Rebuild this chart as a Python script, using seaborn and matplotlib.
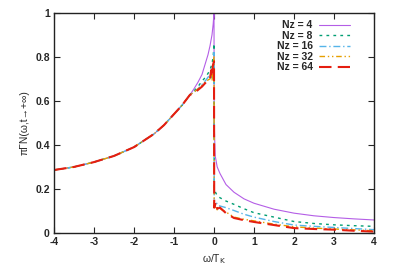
import numpy as np
import pandas as pd
import matplotlib
matplotlib.use("Agg")
import matplotlib.pyplot as plt
import seaborn as sns

# shared left branch (all Nz nearly identical far from omega = 0)
omega_left = [-4, -3.5, -3, -2.5, -2, -1.5, -1.25, -1, -0.8, -0.6]
dos_left = [0.286, 0.300, 0.322, 0.350, 0.390, 0.450, 0.490, 0.540, 0.580, 0.628]

# near-peak and right branch per Nz
omega_4 = [-0.5, -0.4, -0.3, -0.2, -0.15, -0.1, -0.05, -0.02, 0, 0.005, 0.03, 0.08, 0.15, 0.3, 0.5, 0.75, 1, 1.5, 2, 2.5, 3, 3.5, 4]
dos_4 = [0.655, 0.685, 0.72, 0.78, 0.81, 0.85, 0.90, 0.95, 1.0, 0.50, 0.35, 0.30, 0.27, 0.22, 0.185, 0.155, 0.135, 0.108, 0.09, 0.078, 0.07, 0.064, 0.059]

omega_8 = [-0.5, -0.4, -0.3, -0.2, -0.1, -0.05, -0.02, 0, 0.005, 0.05, 0.1, 0.2, 0.3, 0.5, 0.75, 1, 1.5, 2, 2.5, 3, 3.5, 4]
dos_8 = [0.645, 0.665, 0.69, 0.71, 0.74, 0.77, 0.80, 0.86, 0.20, 0.18, 0.165, 0.155, 0.145, 0.13, 0.11, 0.092, 0.072, 0.052, 0.043, 0.037, 0.033, 0.03]

omega_16 = [-0.5, -0.4, -0.3, -0.2, -0.1, -0.07, -0.04, -0.02, 0, 0.005, 0.05, 0.1, 0.2, 0.3, 0.5, 0.75, 1, 1.5, 2, 2.5, 3, 3.5, 4]
dos_16 = [0.64, 0.655, 0.675, 0.695, 0.72, 0.70, 0.75, 0.74, 0.82, 0.12, 0.14, 0.125, 0.12, 0.115, 0.102, 0.085, 0.072, 0.052, 0.036, 0.03, 0.025, 0.02, 0.015]

omega_32 = [-0.5, -0.4, -0.3, -0.2, -0.1, -0.07, -0.04, -0.02, 0, 0.005, 0.05, 0.08, 0.15, 0.3, 0.5, 0.75, 1, 1.5, 2, 2.5, 3, 3.5, 4]
dos_32 = [0.64, 0.655, 0.67, 0.69, 0.70, 0.72, 0.69, 0.76, 0.80, 0.11, 0.12, 0.105, 0.11, 0.095, 0.072, 0.062, 0.055, 0.04, 0.028, 0.022, 0.018, 0.014, 0.01]

omega_64 = [-0.5, -0.4, -0.3, -0.2, -0.1, -0.07, -0.05, -0.03, 0, 0.005, 0.05, 0.08, 0.15, 0.3, 0.5, 0.75, 1, 1.5, 2, 2.5, 3, 3.5, 4]
dos_64 = [0.635, 0.65, 0.665, 0.685, 0.70, 0.74, 0.71, 0.76, 0.78, 0.115, 0.14, 0.11, 0.115, 0.09, 0.068, 0.058, 0.05, 0.036, 0.022, 0.018, 0.015, 0.01, 0.006]

labels = ["Nz = 4", "Nz = 8", "Nz = 16", "Nz = 32", "Nz = 64"]
colors = ["#b45ee6", "#009e73", "#56b4e9", "#e69f00", "#e51e10"]
dashes = [None, (2, 3), (5, 2, 1, 2), (4, 2, 1, 2, 1, 2), (6, 3)]
widths = [0.8, 1.0, 1.0, 1.0, 1.5]

series = [(omega_4, dos_4), (omega_8, dos_8), (omega_16, dos_16), (omega_32, dos_32), (omega_64, dos_64)]

sns.set_style("ticks")
plt.rcParams["font.family"] = ["Liberation Sans", "DejaVu Sans"]
plt.rcParams["axes.unicode_minus"] = False

fig = plt.figure(figsize=(4, 2.8), dpi=100)
ax = fig.add_axes([0.135, 0.168, 0.8, 0.786])

for (om, ds), lab, col, dsh, lw in zip(series, labels, colors, dashes, widths):
    df = pd.DataFrame({"omega": omega_left + om, "dos": dos_left + ds})
    sns.lineplot(data=df, x="omega", y="dos", ax=ax, color=col, linewidth=lw,
                 label=lab, sort=False, estimator=None)
    if dsh is not None:
        ax.get_lines()[-1].set_dashes(dsh)

ax.set_xlim(-4, 4)
ax.set_ylim(0, 1)
ax.set_xticks(range(-4, 5))
ax.set_yticks([0, 0.2, 0.4, 0.6, 0.8, 1])
ax.set_yticklabels(["0", "0.2", "0.4", "0.6", "0.8", "1"])
ax.tick_params(direction="in", top=True, right=True, length=4, width=0.8,
               labelsize=7.5, pad=3)
for t in ax.get_xticklabels() + ax.get_yticklabels():
    t.set_fontweight("bold")
for s in ax.spines.values():
    s.set_linewidth(1.0)
    s.set_color("#222222")

ax.set_xlabel("ω/T$_\\mathrm{K}$", fontsize=7.5)
ax.set_ylabel("πΓN(ω,t→+∞)", fontsize=7.5)

leg = ax.legend(loc="upper right", frameon=False, markerfirst=False, fontsize=7.5,
                handlelength=3.0, handletextpad=0.6, labelspacing=0.05,
                borderaxespad=0.3, bbox_to_anchor=(0.948, 1.0))
for t in leg.get_texts():
    t.set_fontweight("bold")

fig.savefig("out.png", dpi=100)
